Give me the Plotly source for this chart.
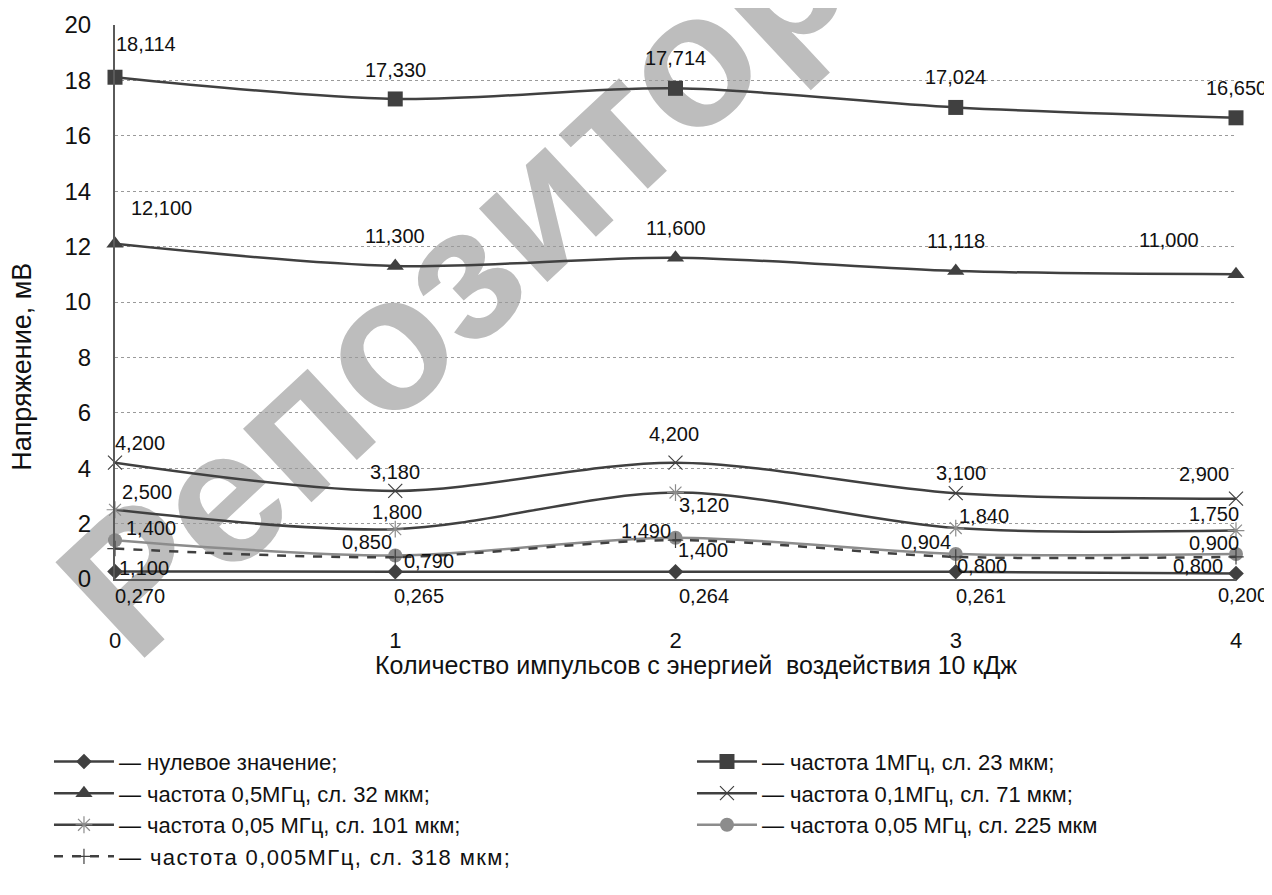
import plotly.graph_objects as go

# ---- data ----
pulses = [0, 1, 2, 3, 4]
x_tick_labels = ["0", "1", "2", "3", "4"]
y_tick_values = [0, 2, 4, 6, 8, 10, 12, 14, 16, 18, 20]

zero_vals = [0.270, 0.265, 0.264, 0.261, 0.200]
f1_vals = [18.114, 17.330, 17.714, 17.024, 16.650]
f05_vals = [12.100, 11.300, 11.600, 11.118, 11.000]
f01_vals = [4.200, 3.180, 4.200, 3.100, 2.900]
f005_101_vals = [2.500, 1.800, 3.120, 1.840, 1.750]
f005_225_vals = [1.400, 0.850, 1.490, 0.904, 0.900]
f0005_vals = [1.100, 0.790, 1.400, 0.800, 0.800]

names = {
    "zero": "— нулевое значение;",
    "f1": "— частота 1МГц, сл. 23 мкм;",
    "f05": "— частота 0,5МГц, сл. 32 мкм;",
    "f01": "— частота 0,1МГц, сл. 71 мкм;",
    "f005_101": "— частота 0,05 МГц, сл. 101 мкм;",
    "f005_225": "— частота 0,05 МГц, сл. 225 мкм",
    "f0005": "— частота 0,005МГц, сл. 318 мкм;",
}

# ---- label placement (pixel offsets from each point) ----
label_offsets = {
    "zero": [(25, -24), (24, -24), (28, -24), (25, -24), (7, -22)],
    "f1": [(31, 33), (0, 29), (0, 30), (0, 30), (0, 30)],
    "f05": [(46, 36), (0, 30), (0, 30), (0, 30), (-67, 34)],
    "f01": [(25, 20), (0, 19), (-2, 29), (5, 20), (-32, 25)],
    "f005_101": [(32, 18), (2, 17), (28, -12), (28, 12), (-22, 17)],
    "f005_225": [(36, 12), (-28, 13), (-30, 7), (-30, 12), (-22, 11)],
    "f0005": [(29, -19), (34, -4), (27, -10), (26, -9), (-38, -9)],
}

FONT = "Liberation Sans, Arial"
DARK = "#404040"
GREY = "#8c8c8c"

series = [
    ("zero", zero_vals, DARK, "solid", dict(symbol="diamond", size=12, color=DARK), "legend"),
    ("f1", f1_vals, DARK, "solid", dict(symbol="square", size=15, color=DARK), "legend2"),
    ("f05", f05_vals, DARK, "solid", dict(symbol="triangle-up", size=15, color=DARK), "legend"),
    ("f01", f01_vals, DARK, "solid", dict(symbol="x-thin", size=14, color=DARK, line=dict(color=DARK, width=1.2)), "legend2"),
    ("f005_101", f005_101_vals, DARK, "solid", dict(symbol="asterisk", size=14, color=GREY, line=dict(color=GREY, width=1.2)), "legend"),
    ("f005_225", f005_225_vals, GREY, "solid", dict(symbol="circle", size=14, color=GREY), "legend2"),
    ("f0005", f0005_vals, DARK, "dash", dict(symbol="cross-thin", size=11, color=DARK, line=dict(color=DARK, width=1.2)), "legend"),
]

legend_name_style = {"f0005": "letter-spacing:1.4px"}

fig = go.Figure()
for key, vals, lc, dash, mk, lg in series:
    nm = names[key]
    if key in legend_name_style:
        nm = f'<span style="{legend_name_style[key]}">{nm}</span>'
    fig.add_trace(go.Scatter(
        x=pulses, y=vals, mode="lines+markers", name=nm,
        line=dict(color=lc, width=2.5, dash=dash, shape="spline", smoothing=0.9),
        marker=mk, legend=lg, cliponaxis=False,
    ))

annotations = []
for key, vals, *_ in series:
    for xi, v, (dx, dy) in zip(pulses, vals, label_offsets[key]):
        annotations.append(dict(
            x=xi, y=v, xref="x", yref="y", text=f"{v:.3f}".replace(".", ","),
            showarrow=False, xanchor="center", yanchor="middle",
            xshift=dx, yshift=dy,
            font=dict(family=FONT, size=20, color="#111111"),
        ))

# axis titles
annotations.append(dict(
    x=0.518, y=-0.155, xref="paper", yref="paper",
    text="Количество импульсов с энергией  воздействия 10 кДж",
    showarrow=False, xanchor="center", yanchor="middle",
    font=dict(family=FONT, size=25, color="#111111"),
))
annotations.append(dict(
    x=-0.083, y=0.383, xref="paper", yref="paper",
    text="Напряжение, мВ", textangle=-90,
    showarrow=False, xanchor="center", yanchor="middle",
    font=dict(family=FONT, size=27, color="#111111"),
))

# the page body adds an 8px margin, so the figure is 8px smaller on each side
fig.update_layout(
    width=1264, height=887,
    margin=dict(l=107, r=36, t=17, b=316, autoexpand=False),
    paper_bgcolor="white", plot_bgcolor="white",
    annotations=annotations,
    shapes=[dict(
        type="line", xref="paper", yref="paper",
        x0=0.356, x1=0.376, y0=0.706, y1=0.706,
        line=dict(color="rgba(0,0,0,0)", width=0), layer="below",
        label=dict(text="Репозиторий", textangle=-43, textposition="middle",
                   xanchor="center", yanchor="middle",
                   font=dict(family=FONT, size=190, weight="bold", color="#bdbdbd")),
    )],
    xaxis=dict(
        range=[0, 4], tickvals=pulses, ticktext=x_tick_labels,
        showgrid=False, zeroline=False, showline=True, linecolor="#5a5a5a", linewidth=2,
        ticks="", ticklabelstandoff=41,
        tickfont=dict(family=FONT, size=22, color="#111111"),
    ),
    yaxis=dict(
        range=[0, 20], tickvals=y_tick_values,
        showgrid=True, gridcolor="#9a9a9a", griddash="dot", gridwidth=1,
        zeroline=False, showline=True, linecolor="#5a5a5a", linewidth=2,
        ticks="", ticklabelstandoff=17,
        tickfont=dict(family=FONT, size=24, color="#111111"),
    ),
    legend=dict(
        x=-0.0589, y=-0.292, xanchor="left", yanchor="top", orientation="v",
        font=dict(family=FONT, size=22, color="#111111"),
        itemwidth=60, bgcolor="rgba(0,0,0,0)",
    ),
    legend2=dict(
        x=0.5147, y=-0.292, xanchor="left", yanchor="top", orientation="v",
        font=dict(family=FONT, size=22, color="#111111"),
        itemwidth=60, bgcolor="rgba(0,0,0,0)",
    ),
    showlegend=True,
)

fig.write_html("out.html")
